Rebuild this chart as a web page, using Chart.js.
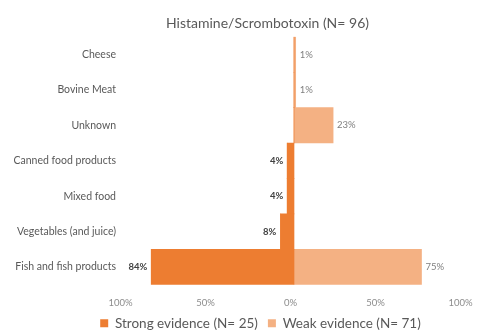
<!DOCTYPE html>
<html>
<head>
<meta charset="utf-8">
<script src="https://cdn.jsdelivr.net/npm/chart.js@4.4.1/dist/chart.umd.min.js"></script>
<style>
  html, body { margin: 0; padding: 0; background: #fff; }
  #wrap { width: 477px; height: 336px; }
</style>
</head>
<body>
<div id="wrap"><canvas id="c" width="477" height="336"></canvas></div>
<script>
const categories = ['Cheese', 'Bovine Meat', 'Unknown', 'Canned food products', 'Mixed food', 'Vegetables (and juice)', 'Fish and fish products'];
const strongPct = [0, 0, 0, 4, 4, 8, 84];
const weakPct = [1, 1, 23, 0, 0, 0, 75];
const tickValues = [-100, -50, 0, 50, 100];
const seriesNames = ['Strong evidence (N= 25)', 'Weak evidence (N= 71)'];
const chartTitle = 'Histamine/Scrombotoxin (N= 96)';

const FONT = 'Lato, "Open Sans", sans-serif';

// Percentage labels next to each bar end: strong on the left, weak on the right
const barLabels = {
  id: 'barLabels',
  afterDatasetsDraw(chart) {
    const ctx = chart.ctx;
    ctx.save();
    ctx.textBaseline = 'middle';
    chart.data.datasets.forEach((ds, di) => {
      const meta = chart.getDatasetMeta(di);
      meta.data.forEach((bar, i) => {
        const v = ds.data[i];
        if (!v) return;
        const pct = Math.abs(v) + '%';
        if (v < 0) {
          ctx.font = 'bold 9.5px ' + FONT;
          ctx.fillStyle = '#404040';
          ctx.textAlign = 'right';
          ctx.fillText(pct, bar.x - 4, bar.y);
        } else {
          ctx.font = '9.5px ' + FONT;
          ctx.fillStyle = '#7f7f7f';
          ctx.textAlign = 'left';
          ctx.fillText(pct, bar.x + 4, bar.y);
        }
      });
    });
    ctx.restore();
  }
};

// Title and legend sit centred a little right of the canvas middle;
// the legend is also pulled up closer to the axis labels
const headerShift = {
  id: 'headerShift',
  afterLayout(chart) {
    const t = chart.titleBlock;
    if (t) { t.left += 29; t.right += 29; t.top += 1.5; t.bottom += 1.5; }
    const l = chart.legend;
    if (l) { l.left += 22; l.right += 22; l.top -= 15; l.bottom -= 15; }
  }
};

new Chart(document.getElementById('c'), {
  type: 'bar',
  data: {
    labels: categories,
    datasets: [
      {
        label: seriesNames[0],
        data: strongPct.map(v => -v),
        backgroundColor: '#ED7D31',
        borderWidth: 0,
        categoryPercentage: 1.0,
        barPercentage: 1.0
      },
      {
        label: seriesNames[1],
        data: weakPct,
        backgroundColor: '#F4B183',
        borderWidth: 0,
        categoryPercentage: 1.0,
        barPercentage: 1.0
      }
    ]
  },
  options: {
    indexAxis: 'y',
    responsive: false,
    animation: false,
    layout: { padding: { left: 0, right: 0, top: 9, bottom: -19 } },
    scales: {
      x: {
        stacked: true,
        min: -100,
        max: 100,
        afterBuildTicks(axis) { axis.ticks = tickValues.map(v => ({ value: v })); },
        afterFit(axis) { axis.paddingRight = 13; axis.paddingLeft = 0; },
        grid: { display: false, drawTicks: false },
        border: { display: false },
        ticks: {
          padding: 17,
          labelOffset: -3.5,
          color: '#8c8c8c',
          font: { family: FONT, size: 9.5, lineHeight: 0.3 },
          callback: v => Math.abs(v) + '%'
        }
      },
      y: {
        stacked: true,
        grid: { display: false, drawTicks: false },
        border: { display: false },
        afterFit(axis) { axis.width = 124; },
        ticks: {
          padding: 8,
          color: '#595959',
          font: { family: FONT, size: 10.5 }
        }
      }
    },
    plugins: {
      title: {
        display: true,
        text: chartTitle,
        color: '#595959',
        font: { family: FONT, size: 14, weight: 'normal' },
        padding: { top: 5, bottom: 6 }
      },
      legend: {
        position: 'bottom',
        labels: {
          color: '#595959',
          font: { family: FONT, size: 13.5 },
          boxWidth: 8,
          boxHeight: 8,
          padding: 10
        }
      },
      tooltip: { enabled: false }
    }
  },
  plugins: [barLabels, headerShift]
});
</script>
</body>
</html>
